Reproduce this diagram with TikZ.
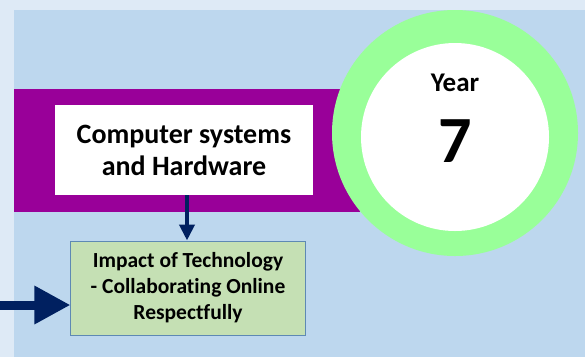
\documentclass[tikz,border=0pt]{standalone}
\usepackage{fontspec}
\setmainfont{Carlito}[Ligatures=CommonOff]
\usetikzlibrary{arrows.meta}

\definecolor{pagebg}{HTML}{DEEAF6}
\definecolor{panelbg}{HTML}{BDD7EE}
\definecolor{bandpurple}{HTML}{990099}
\definecolor{ringgreen}{HTML}{99FF99}
\definecolor{topicgreen}{HTML}{C5E0B4}
\definecolor{topicedge}{HTML}{5E89B4}
\definecolor{navy}{HTML}{002060}

\tikzset{
  unitbox/.style={fill=white, minimum width=258bp, minimum height=90bp, align=center,
    font=\fontsize{28bp}{32bp}\selectfont\bfseries},
  topicbox/.style={draw=topicedge, line width=1bp, fill=topicgreen, minimum width=234bp,
    minimum height=94bp, align=center, font=\fontsize{21.5bp}{26bp}\selectfont\bfseries},
  downarrow/.style={navy, line width=4bp, -{Triangle[width=15bp,length=16bp]}},
  bigarrow/.style={navy, line width=9bp, -{Triangle[width=36bp,length=36bp]}}
}

\begin{document}
\begin{tikzpicture}[x=1bp, y=-1bp]
  \useasboundingbox (0,0) rectangle (585,357);
  \fill[pagebg] (0,0) rectangle (585,357);
  \fill[panelbg] (14,10) rectangle (585,357);
  \fill[bandpurple] (14,89) rectangle (360,212);

  % year badge
  \node (ring)[circle, fill=ringgreen, minimum size=246bp, inner sep=0pt] at (455,133) {};
  \node (badge)[circle, fill=white, minimum size=188bp, inner sep=0pt] at (455,137) {};
  \node (year) at (455,83) {\fontsize{27bp}{30bp}\selectfont\bfseries Year};
  \node (num) at (455,141) {\fontsize{66bp}{70bp}\selectfont\bfseries 7};

  \node (hw)[unitbox] at (184,150) {Computer systems\\and Hardware};
  \node (topic)[topicbox] at (188,288) {Impact of Technology\\- Collaborating Online\\Respectfully};

  \coordinate (inlet) at (-5,305);
  \draw[downarrow] ([xshift=3bp]hw.south) -- ([xshift=3bp]hw.south |- topic.north);
  \draw[bigarrow] (inlet) -- (inlet -| topic.west);
\end{tikzpicture}
\end{document}
